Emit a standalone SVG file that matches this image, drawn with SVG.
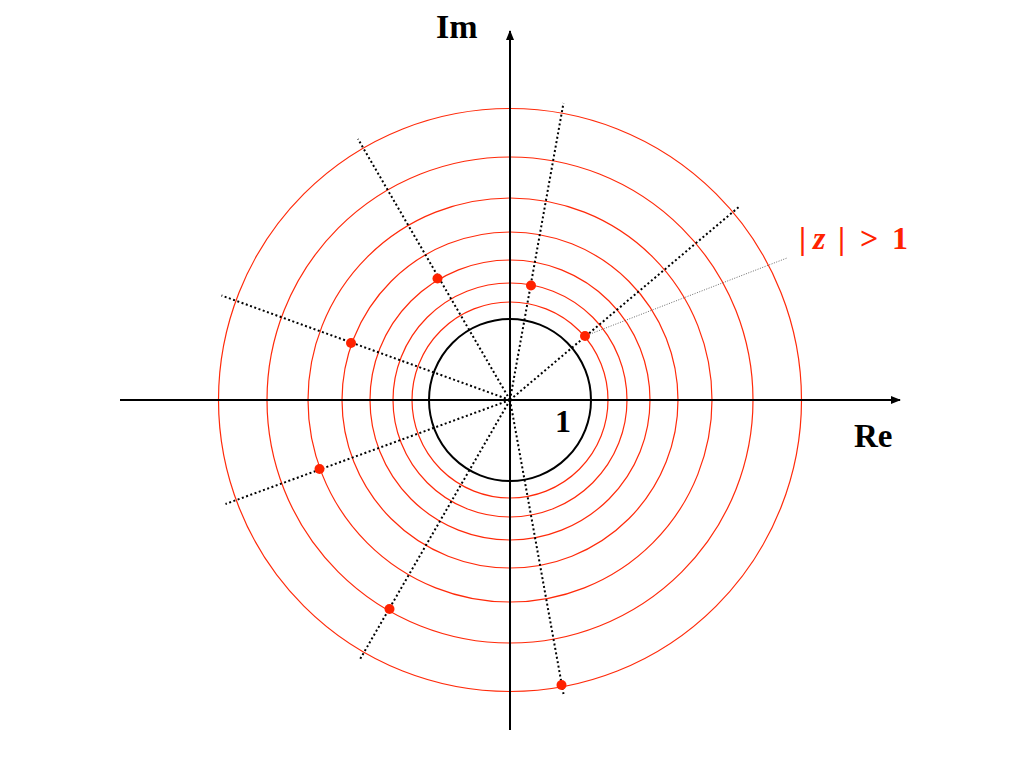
<svg xmlns="http://www.w3.org/2000/svg" width="1024" height="768" viewBox="0 0 1024 768">
<style>
.red{fill:none;stroke:#ff2a0a;stroke-width:1.2}
.ray{stroke:#000;stroke-width:2;stroke-dasharray:2 2.5;fill:none}
.ax{stroke:#000;stroke-width:2;fill:none}
.dot{fill:#ff2200}
.t{font-family:"Liberation Serif",serif;font-weight:bold;fill:#000}
</style>
<defs>
<marker id="ah" markerWidth="10" markerHeight="8" refX="9" refY="4" orient="auto" markerUnits="userSpaceOnUse">
<path d="M0,0 L10,4 L0,8 Z" fill="#000"/>
</marker>
</defs>
<rect width="1024" height="768" fill="#fff"/>
<g id="circles">
<circle class="red" cx="510" cy="400" r="98"/>
<circle class="red" cx="510" cy="400" r="117"/>
<circle class="red" cx="510" cy="400" r="140"/>
<circle class="red" cx="510" cy="400" r="168"/>
<circle class="red" cx="510" cy="400" r="202"/>
<circle class="red" cx="510" cy="400" r="243"/>
<circle class="red" cx="510" cy="400" r="291.5"/>
<circle id="unit" cx="510" cy="400" r="81" fill="none" stroke="#000" stroke-width="2"/>
</g>
<g id="connectors">
<line class="ax" x1="120" y1="400" x2="900" y2="400" marker-end="url(#ah)"/>
<line class="ax" x1="510" y1="730" x2="510" y2="31" marker-end="url(#ah)"/>
<line class="ray" x1="510" y1="400" x2="358" y2="139"/>
<line class="ray" x1="510" y1="400" x2="221.5" y2="295.5"/>
<line class="ray" x1="510" y1="400" x2="225.5" y2="504"/>
<line class="ray" x1="510" y1="400" x2="359" y2="661"/>
<line class="ray" x1="510" y1="400" x2="563.5" y2="694"/>
<line class="ray" x1="510" y1="400" x2="563.5" y2="103"/>
<line class="ray" x1="510" y1="400" x2="740" y2="206"/>
<line x1="585" y1="336" x2="787" y2="258" stroke="#444" stroke-width="0.8" stroke-dasharray="1 1.5"/>
</g>
<g id="points">
<circle class="dot" cx="437.5" cy="278.5" r="5"/>
<circle class="dot" cx="531" cy="285.5" r="5"/>
<circle class="dot" cx="585" cy="336" r="5"/>
<circle class="dot" cx="351" cy="343" r="5"/>
<circle class="dot" cx="319.5" cy="469" r="5"/>
<circle class="dot" cx="389.5" cy="609" r="5"/>
<circle class="dot" cx="561.5" cy="685" r="5"/>
</g>
<g id="labels">
<text class="t" x="436" y="38" font-size="34">Im</text>
<text class="t" x="854" y="447" font-size="33">Re</text>
<text class="t" x="555" y="432" font-size="32">1</text>
<text y="249" font-family="Liberation Serif,serif" font-weight="bold" font-size="32" fill="#ff2200"><tspan x="799">|</tspan><tspan x="813" font-style="italic">z</tspan><tspan x="838">|</tspan><tspan x="860">&gt;</tspan><tspan x="892">1</tspan></text>
</g>
</svg>
